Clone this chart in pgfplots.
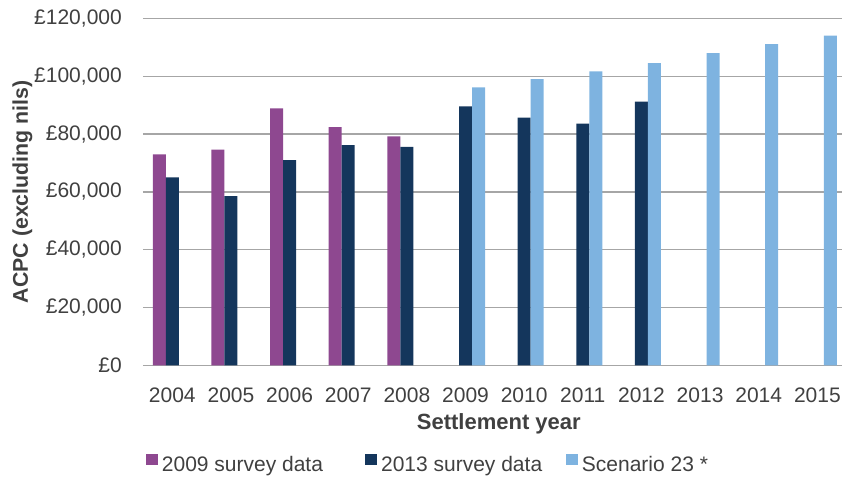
\documentclass[border=0pt]{standalone}
\usepackage{pgfplots}
\pgfplotsset{compat=1.18}
\usepackage{fontspec}
\setmainfont{Liberation Sans}
\definecolor{txt}{HTML}{404040}
\definecolor{grd}{RGB}{166,166,166}
\definecolor{purp}{RGB}{142,72,144}
\definecolor{navy}{RGB}{20,54,92}
\definecolor{lblue}{RGB}{126,179,224}
\newcommand{\fs}{\fontsize{21bp}{25bp}\selectfont}
\newcommand{\fb}{\fontsize{22bp}{26bp}\selectfont\bfseries}
\newcommand{\fy}{\fontsize{21.3bp}{25bp}\selectfont\bfseries}

\begin{document}
\begin{tikzpicture}
\useasboundingbox (-143bp,-111.7bp) rectangle (699bp,365.3bp);
\begin{axis}[
  at={(0,0)}, anchor=south west,
  scale only axis, width=699bp, height=346.8bp,
  ybar=0pt, bar width=13bp,
  xmin=-0.5, xmax=11.42, ymin=0, ymax=120000,
  xtick={0,...,11},
  xticklabels={2004,2005,2006,2007,2008,2009,2010,2011,2012,2013,2014,2015},
  ytick={0,20000,40000,60000,80000,100000,120000},
  yticklabels={£0,{£20,000},{£40,000},{£60,000},{£80,000},{£100,000},{£120,000}},
  scaled y ticks=false,
  major tick style={draw=none},
  axis line style={draw=none},
  ymajorgrids, grid style={grd, line width=1.2bp},
  tick label style={font=\fs, text=txt},
  xticklabel style={anchor=base, inner sep=0pt, yshift=-32.8bp},
  yticklabel style={anchor=east, inner sep=0pt, xshift=-21bp},
  xlabel={Settlement year},
  ylabel={ACPC (excluding nils)},
  every axis x label/.style={at={(axis description cs:0.509,-0.184)}, anchor=base, inner sep=0pt, font=\fb, text=txt},
  every axis y label/.style={at={(axis description cs:-0.1724,0.5)}, rotate=90, anchor=center, font=\fy, text=txt},
  legend columns=3,
  legend style={at={(axis description cs:0.0043,-0.282)}, anchor=west, draw=none, fill=none,
    inner sep=0pt, font=\fs, text=txt, nodes={inner sep=0pt},
    /tikz/every odd column/.append style={column sep=4.4bp},
    /tikz/column 2/.style={column sep=42.4bp},
    /tikz/column 4/.style={column sep=24bp}},
  legend image code/.code={\fill[#1] (0bp,-0.5bp) rectangle (11.3bp,10.8bp);},
]
\addplot[fill=purp, draw=none] coordinates {
(0,73000) (1,74600) (2,88900) (3,82400) (4,79200)};
\addlegendentry{2009 survey data}
\addplot[fill=navy, draw=none] coordinates {
(0,65000) (1,58500) (2,71000) (3,76200) (4,75600) (5,89600) (6,85700) (7,83600) (8,91200)};
\addlegendentry{2013 survey data}
\addplot[fill=lblue, draw=none] coordinates {
(5,96200) (6,99000) (7,101700) (8,104600) (9,108000) (10,111100) (11,114100)};
\addlegendentry{Scenario 23 *}
\end{axis}
\end{tikzpicture}
\end{document}
